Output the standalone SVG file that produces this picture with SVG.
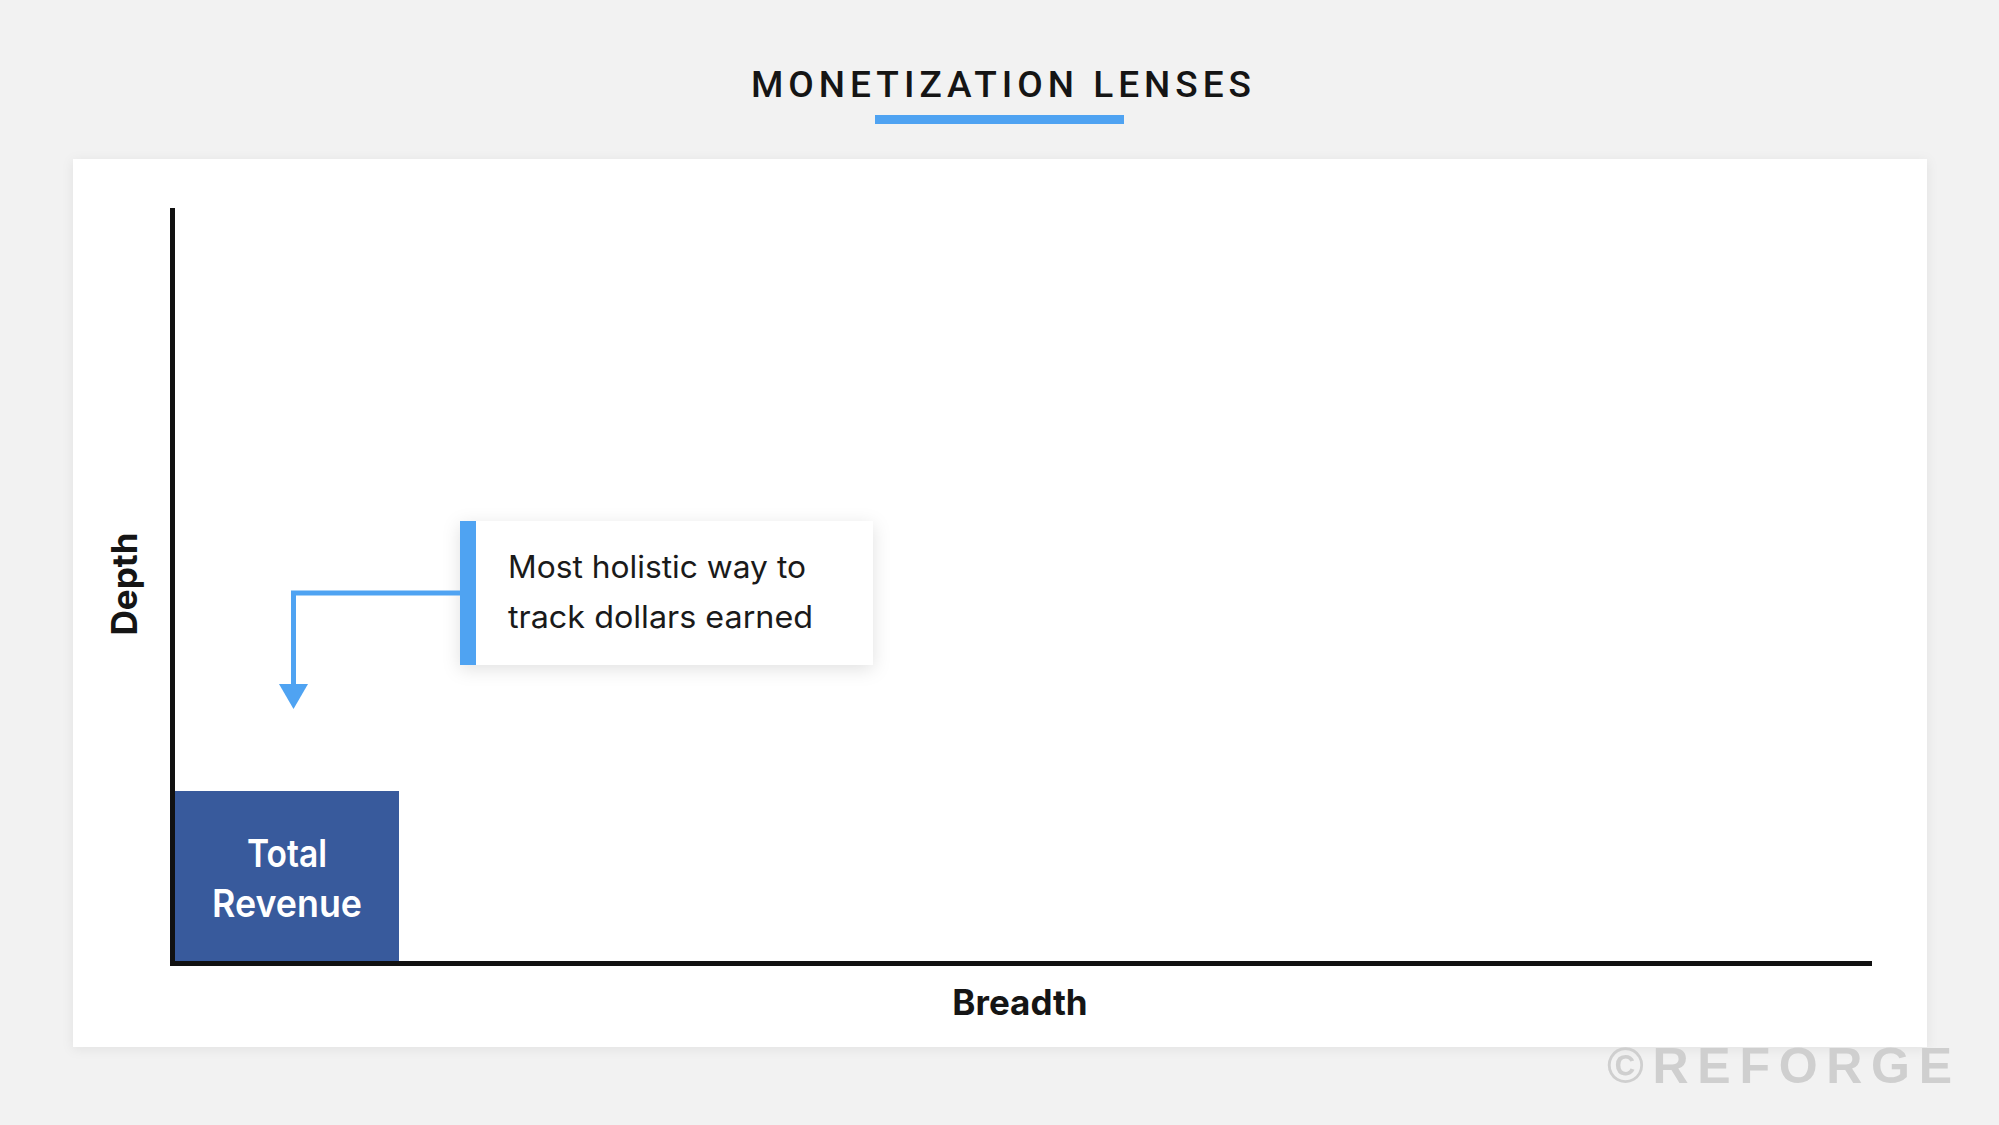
<svg xmlns="http://www.w3.org/2000/svg" width="1999" height="1125" viewBox="0 0 1999 1125">
  <style>
    .title { font-family: Roboto, "Liberation Sans", sans-serif; font-weight: 500; font-size: 37px; fill: #151515; }
    .axis-label { font-family: Inter, "Liberation Sans", sans-serif; font-weight: 700; font-size: 35px; fill: #151515; }
    .node-label { font-family: Inter, "Liberation Sans", sans-serif; font-weight: 600; font-size: 38px; fill: #ffffff; }
    .callout-text { font-family: Inter, "Liberation Sans", sans-serif; font-weight: 400; font-size: 31px; fill: #1a1a1a; }
    .watermark { font-family: "Liberation Sans", Arial, sans-serif; font-weight: 700; font-size: 50px; fill: #cfcfcf; }
    .axis { stroke: #111111; stroke-width: 5; fill: none; }
    .connector { stroke: #4fa3f2; stroke-width: 5; fill: none; }
  </style>
  <defs>
    <filter id="panelShadow" x="-5%" y="-5%" width="110%" height="110%">
      <feDropShadow dx="0" dy="2" stdDeviation="6" flood-color="#000" flood-opacity="0.07"/>
    </filter>
    <filter id="boxShadow" x="-20%" y="-30%" width="140%" height="160%">
      <feDropShadow dx="0" dy="4" stdDeviation="9" flood-color="#000" flood-opacity="0.12"/>
    </filter>
    <marker id="arrow" viewBox="0 0 25 29" markerWidth="25" markerHeight="29" refX="0" refY="14.5" orient="auto" markerUnits="userSpaceOnUse">
      <path d="M0,0 L25,14.5 L0,29 Z" fill="#4fa3f2"/>
    </marker>
  </defs>

  <rect x="0" y="0" width="1999" height="1125" fill="#f2f2f2"/>

  <g id="title">
    <text class="title" x="751" y="97" textLength="500" lengthAdjust="spacing">MONETIZATION LENSES</text>
    <rect x="875" y="115" width="249" height="9" fill="#4fa3f2"/>
  </g>

  <rect id="panel" x="73" y="159" width="1854" height="888" fill="#ffffff" filter="url(#panelShadow)"/>

  <g id="axes">
    <line class="axis" x1="172.5" y1="208" x2="172.5" y2="966"/>
    <line class="axis" x1="170" y1="963.5" x2="1872" y2="963.5"/>
    <text class="axis-label" transform="translate(137,584) rotate(-90)" text-anchor="middle" x="0" y="0">Depth</text>
    <text class="axis-label" x="1020" y="1015" text-anchor="middle">Breadth</text>
  </g>

  <g id="total-revenue">
    <rect x="175" y="791" width="224" height="170" fill="#385a9c"/>
    <text class="node-label" x="287" y="867" text-anchor="middle" textLength="80" lengthAdjust="spacingAndGlyphs">Total</text>
    <text class="node-label" x="287" y="917" text-anchor="middle" textLength="150" lengthAdjust="spacingAndGlyphs">Revenue</text>
  </g>

  <g id="callout">
    <rect x="460" y="521" width="413" height="144" fill="#ffffff" filter="url(#boxShadow)"/>
    <rect x="460" y="521" width="16" height="144" fill="#4fa3f2"/>
    <text class="callout-text" x="508" y="578" textLength="298" lengthAdjust="spacingAndGlyphs">Most holistic way to</text>
    <text class="callout-text" x="508" y="628" textLength="305" lengthAdjust="spacingAndGlyphs">track dollars earned</text>
  </g>

  <g id="connectors">
    <path class="connector" d="M460,593 H293.5 V684" marker-end="url(#arrow)"/>
  </g>

  <text id="watermark" class="watermark" x="1607" y="1083" textLength="345" lengthAdjust="spacing">©REFORGE</text>
</svg>
